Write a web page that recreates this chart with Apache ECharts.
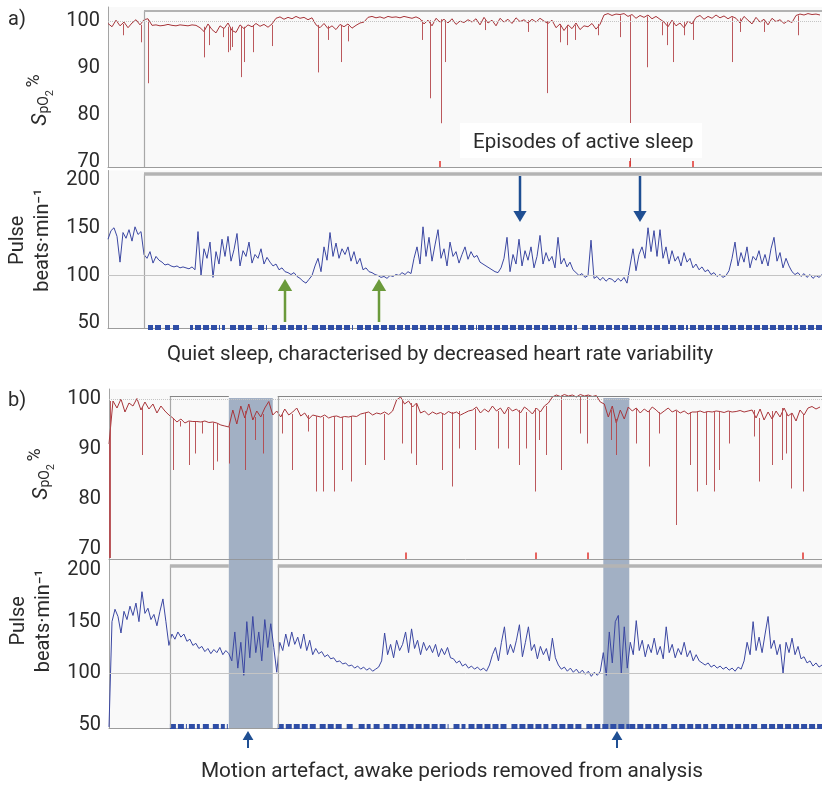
<!DOCTYPE html>
<html>
<head>
<meta charset="utf-8">
<title>Overnight oximetry</title>
<script src="https://cdn.jsdelivr.net/npm/echarts@6/dist/echarts.min.js"></script>
<style>
  html, body { margin: 0; padding: 0; background: #fff; }
  #chart { width: 822px; height: 785px; }
</style>
</head>
<body>
<div id="chart"></div>
<script>
// time axis is minutes from the start of the recording (0..714)
const PULSE_STEP = 3;
const SPO2_STEP = 4;
const T_END = 714;

const spo2Ticks = [70, 80, 90, 100];
const pulseTicks = [50, 100, 150, 200];

// ---- panel a ----
const spo2A = [
  99.5, 98.8, 100.2, 99.0, 99.8, 98.6, 99.6, 100.3, 99.2,
  100.3, 100.5,
  99.1, 99.2, 99.0, 99.1, 99.3, 99.1, 99.0, 99.2, 99.1, 99.0, 99.2, 99.1,
  98.6, 97.8, 99.4, 98.2, 97.5, 99.0, 98.4, 99.6, 98.0, 97.6, 99.2,
  98.4, 99.2, 98.8, 99.5, 98.9, 99.3, 98.7, 99.4,
  100.6, 100.9, 100.4, 100.8, 100.5, 101.0, 100.6, 100.8, 100.3, 100.7,
  99.2, 98.6, 99.5, 98.4, 99.0, 98.2, 99.3, 98.8, 99.4, 98.5, 99.1, 99.6, 99.8,
  100.8, 101.0, 100.7, 100.9, 100.6, 101.0, 100.8, 100.9, 100.7, 101.0, 100.8, 100.6, 100.9, 100.5,
  99.4, 100.2, 99.0, 100.6, 99.8, 100.4, 99.6, 100.5, 99.3, 100.0, 99.7, 100.3,
  99.8, 100.5, 99.2, 100.8, 99.6, 100.2, 99.0, 100.6, 99.8, 100.4, 99.5, 100.7, 99.9, 100.3,
  99.6, 100.4, 99.8, 100.6, 100.0, 99.5, 100.2,
  98.6, 99.4, 98.0, 99.2, 98.4, 99.6, 98.2, 99.0, 98.8, 99.5, 98.3, 99.3,
  101.3, 101.6, 101.2, 101.5, 101.4, 101.6,
  101.0, 101.4, 100.6, 101.2, 100.8, 101.3, 100.5, 101.0, 100.4,
  99.8, 98.8, 100.2, 99.0, 99.6, 98.6, 100.0, 99.4,
  100.8, 101.2, 100.4, 101.0, 100.6, 101.3, 100.7, 101.1, 100.5, 101.0,
  100.6, 99.6, 101.0, 100.2, 99.4, 100.8, 99.8, 100.4, 99.2, 100.6, 99.9, 100.3, 99.5, 100.1, 99.7,
  101.2, 101.5, 101.3, 101.6, 101.4, 101.5, 101.3
];
// desaturations: [minute, level before, lowest value]
const spo2ADips = [
  [15, 99.4, 97.0], [33, 99.2, 95.5], [40, 100.4, 86.8], [96, 98.8, 92.3], [101, 99.0, 94.9],
  [115, 98.6, 96.6], [120, 98.8, 93.4], [122, 98.6, 93.8], [124, 98.8, 94.5], [133, 99.0, 88.1],
  [136, 98.8, 91.3], [145, 99.0, 93.4], [164, 99.2, 94.7], [210, 99.2, 89.1], [220, 99.0, 96.0],
  [233, 99.2, 91.3], [240, 99.0, 95.7], [314, 100.2, 96.0], [322, 100.2, 83.6], [333, 100.4, 78.3],
  [337, 100.0, 91.3], [377, 100.2, 98.1], [420, 100.2, 97.7], [439, 100.0, 84.7], [452, 99.4, 95.5],
  [459, 99.2, 94.9], [467, 99.2, 96.0], [490, 99.4, 97.0], [512, 101.2, 96.6], [522, 101.2, 69.2],
  [539, 101.0, 90.2], [554, 100.0, 97.0], [559, 99.8, 94.9], [565, 99.6, 91.3], [576, 99.8, 97.0],
  [585, 100.0, 96.0], [624, 100.8, 91.3], [632, 100.6, 97.7], [656, 100.2, 97.7], [690, 101.2, 97.0]
];
const pulseA = [
  138, 147, 150, 141, 114, 145, 139, 148, 136, 151, 143, 146,
  122, 118, 125, 113, 120, 116,
  114, 111, 112, 110, 109, 110, 108, 109, 108, 107, 109, 106,
  146, 100, 128, 118, 135, 98, 125, 112, 138, 120, 141, 115, 127, 144, 110, 126, 120, 135, 113, 122, 118, 128, 112, 119,
  114, 110, 112, 106, 108, 104, 103, 101, 103, 99, 97, 94, 92, 96,
  100, 110, 118, 104, 130, 116, 145, 120, 134, 118, 128, 122, 130, 115, 125, 112, 118,
  106, 108, 104, 103, 101, 100, 98, 99, 97, 100, 99, 101, 100, 103, 101, 104, 102,
  118, 130, 112, 151, 120, 140, 115, 132, 148, 118, 128, 110, 135, 120, 125, 113, 122, 130, 117,
  125, 119, 121, 114, 112, 110, 108, 106, 104, 103,
  108, 118, 140, 104, 122, 112, 138, 110, 126, 116, 130, 108, 120, 142, 112, 124, 115, 120, 108, 140, 112, 118, 109, 114, 106,
  103, 100, 102, 98, 100, 137, 97, 99, 95, 98, 94, 97, 96, 93, 97, 94, 98, 92,
  110, 128, 105, 122, 130, 118, 150, 125, 147, 120, 148, 118, 130, 112, 126, 115, 120, 110, 124, 114, 118, 108,
  112, 106, 109, 104, 106, 101, 103, 99, 101, 98, 100,
  105, 118, 135, 110, 124, 114, 130, 108, 120, 116, 126, 112, 122, 110, 128, 140, 115, 124, 108, 118, 110,
  104, 101, 103, 99, 102, 98, 101, 97, 100, 98, 101
];
// quiet sleep epochs [start, end]
const quietA = [
  [40, 45], [47, 54], [57, 62], [65, 72], [82, 85], [87, 112], [114, 117], [122, 145], [150, 159],
  [164, 169], [172, 199], [204, 245], [249, 302], [304, 369], [370, 469], [474, 552], [554, 580],
  [582, 690], [692, 714]
];
const eventsA = [332, 522, 585];
const analysisA = [[36, 714]];

// ---- panel b ----
const spo2B = [
  91.0,
  99.6, 98.2, 100.0, 97.4, 99.2, 98.6, 100.1, 97.8, 99.4, 98.0, 99.0, 97.2, 98.6, 97.6,
  96.8, 96.2, 95.4, 96.0, 95.2, 95.6, 95.5, 95.5, 95.4, 95.6, 95.3, 95.4, 95.2, 94.8, 94.6, 94.4,
  97.8, 95.0, 98.6, 96.2, 99.0, 95.8, 97.6, 96.4, 98.2, 99.5, 96.8,
  97.6, 96.4, 98.0, 96.8, 97.4, 98.2, 96.6, 97.2, 96.0, 96.8,
  96.6, 96.4, 96.8, 96.2, 96.5, 96.6, 96.3, 96.5, 96.4, 96.6, 96.5,
  97.0, 97.2, 97.4, 96.8, 97.2, 97.0, 97.4, 96.9, 97.6,
  99.8, 100.4, 99.0, 99.6, 98.4, 99.2,
  97.2, 97.6, 96.8, 97.4, 97.0, 97.3, 96.9, 97.5, 97.1, 97.4, 96.8, 97.2, 97.6,
  97.8, 98.4, 97.2, 98.0, 97.4, 98.6, 97.6, 98.2, 97.0, 98.4, 97.6, 98.0, 97.2, 98.4, 97.8, 97.0, 98.2, 97.4, 98.6,
  99.2, 100.4, 100.8, 100.5, 100.9, 100.6, 100.8, 100.4, 100.9, 100.6, 100.8, 100.5, 100.7,
  99.4, 99.0,
  96.4, 98.6, 95.2, 97.8, 96.0, 98.4,
  97.6, 98.2, 97.2, 98.0, 97.4, 98.4, 97.8, 97.0, 97.6, 98.2, 97.4, 97.8, 97.2, 97.6, 97.0, 97.4,
  97.4, 97.6, 97.3, 97.5, 97.4, 97.6, 97.5, 97.3, 97.6, 97.4, 97.5, 97.7, 97.4, 97.6,
  97.8, 96.2, 98.0, 95.8, 97.4, 96.0, 97.6, 96.4, 98.2, 96.6, 97.2, 95.6, 97.8, 96.8,
  98.2, 98.5, 98.0, 98.4
];
const spo2BDips = [
  [0, 91, 68.2], [1.5, 99.6, 68.2], [33, 98.4, 88.8], [64, 96.2, 85.8], [71, 95.6, 94.5],
  [80, 95.5, 86.8], [86, 95.5, 89.1], [93, 95.4, 93.1], [104, 95.3, 85.8], [108, 95.2, 87.5],
  [120, 94.4, 87.1], [136, 97.6, 85.8], [146, 96.4, 91.8], [154, 97.0, 89.1], [173, 97.2, 93.1],
  [184, 97.0, 85.8], [200, 96.8, 93.5], [208, 96.6, 81.5], [215, 96.4, 81.5], [226, 96.5, 81.5],
  [234, 96.4, 85.8], [243, 96.6, 83.5], [257, 97.2, 86.8], [276, 97.0, 87.8], [294, 99.6, 91.1],
  [303, 99.2, 89.1], [308, 99.0, 86.8], [334, 97.2, 85.8], [344, 97.4, 82.5], [351, 97.6, 90.1],
  [367, 98.0, 89.8], [390, 97.6, 90.1], [400, 98.0, 90.1], [411, 97.8, 86.8], [418, 97.4, 90.1],
  [427, 98.2, 81.5], [431, 97.6, 91.8], [438, 98.6, 88.8], [453, 100.6, 85.8], [472, 100.6, 93.1],
  [479, 100.8, 91.1], [503, 97.8, 91.8], [508, 96.0, 88.8], [528, 98.2, 91.1], [541, 97.6, 86.5],
  [551, 97.4, 93.1], [568, 97.6, 74.8], [582, 97.4, 86.8], [589, 97.4, 81.5], [598, 97.5, 82.8],
  [606, 97.6, 81.5], [611, 97.4, 85.8], [621, 97.5, 91.1], [646, 97.8, 92.5], [651, 96.2, 83.5],
  [664, 97.6, 86.8], [674, 98.2, 87.8], [678, 97.2, 89.1], [683, 97.2, 82.1], [695, 96.8, 81.5]
];
const pulseB = [
  48,
  150, 162, 155, 139, 160, 152, 165, 156, 168, 150, 179, 158, 163, 152, 157, 146, 160, 172, 150,
  127,
  138, 133, 140, 135, 138, 131, 133, 127, 129, 124, 126, 121, 124, 119, 123, 120, 125, 118, 122, 119,
  112, 140, 105, 130, 98, 150, 115, 155, 120, 140, 112, 152, 125, 148,
  125, 101, 130, 122, 138, 126, 140, 128, 135, 124, 138, 122, 132, 118,
  124, 119, 121, 116, 118, 114, 115, 111, 112, 109, 110, 107, 108, 105, 107, 104, 106, 103, 105, 102, 104, 106,
  112, 139, 118, 128, 115, 132, 122, 128, 140, 120, 143, 124, 132, 118, 130, 122, 127, 120, 128, 116, 124, 118, 125, 115,
  114, 110, 112, 107, 109, 105,
  107, 104, 106, 103, 105, 102, 108,
  118, 125, 112, 130, 145, 118, 128, 120, 132, 147, 116, 130, 145, 122, 128, 114, 126, 118, 124, 112, 134, 115,
  108, 104, 106, 102, 105, 101, 104, 100, 103, 99, 102, 97, 101, 98, 102,
  120, 98, 140, 110, 150, 156, 100, 145, 105,
  130, 118, 151, 122, 132, 116, 128, 120, 134, 118, 126, 114, 145, 120, 128, 115, 124, 118, 130, 116, 122, 112, 118,
  112, 110, 108, 110, 106, 108, 105, 107, 104, 106, 103, 105, 102, 106, 104,
  112, 130, 118, 150, 122, 135, 120, 138, 155, 124, 132, 118, 128, 100, 130, 120, 134, 118, 126, 114,
  116, 110, 112, 107, 110, 106, 108
];
const quietB = [
  [61, 78], [80, 91], [94, 101], [104, 116], [118, 119], [169, 209], [211, 235], [238, 245],
  [250, 262], [265, 272], [275, 340], [345, 357], [360, 400], [403, 440], [443, 475], [478, 521],
  [521, 560], [563, 600], [603, 650], [653, 714]
];
const eventsB = [297, 427, 479, 695];
const analysisB = [[61, 120], [169, 714]];
const awakeB = [[120, 164], [495, 521]];

// ---------- layout ----------
const FONT = 'Roboto, "Noto Sans", sans-serif';
const TXT = '#2b2b2b';
const RED = '#a8353a';
const BLUE = '#3b47a2';
const ARROW = '#1f4f93';

const panels = [
  { left: 108, top: 7, height: 160, width: 714, min: 69, max: 103, ticks: spo2Ticks, barTop: 102.2, ref: 100 },
  { left: 108, top: 170.5, height: 157.5, width: 714, min: 45, max: 210, ticks: pulseTicks, barTop: 206.3, ref: 100 },
  { left: 109, top: 389, height: 170, width: 713, min: 68, max: 102, ticks: spo2Ticks, barTop: 100.6, ref: 100 },
  { left: 109, top: 559.7, height: 168.3, width: 713, min: 47, max: 210, ticks: pulseTicks, barTop: 204.4, ref: 100 }
];
const barStyle = [
  { color: '#b2b2b2', width: 2.2 },
  { color: '#b4b4b4', width: 3.5 },
  { color: '#858585', width: 1.2 },
  { color: '#b4b4b4', width: 3.5 }
];

const spo2Name = '{it|S}{sub|pO}{sub2|2}{sp| }{sup|%}';
const spo2Rich = {
  it: { fontStyle: 'italic', fontSize: 21, lineHeight: 30, fontFamily: FONT, color: TXT, verticalAlign: 'middle' },
  sub: { fontSize: 14, fontFamily: FONT, color: TXT, verticalAlign: 'bottom', padding: [0, 0, 4, 0] },
  sub2: { fontSize: 11, fontFamily: FONT, color: TXT, verticalAlign: 'bottom' },
  sp: { fontSize: 10, fontFamily: FONT, color: TXT },
  sup: { fontSize: 18, fontFamily: FONT, color: TXT, verticalAlign: 'top' }
};
const names = [
  { name: spo2Name, gap: 35, padding: [0, 26, 0, 0], rich: spo2Rich },
  { name: 'Pulse\nbeats\u00b7min\u207b\u00b9', gap: 49, padding: [0, 0, 0, 18], lineHeight: 25 },
  { name: spo2Name, gap: 35, padding: [0, 0, 0, 0], rich: spo2Rich },
  { name: 'Pulse\nbeats\u00b7min\u207b\u00b9', gap: 49, padding: [0, 0, 0, 46], lineHeight: 25 }
];

const grids = panels.map(p => ({
  left: p.left, top: p.top, width: p.width, height: p.height,
  show: true, backgroundColor: '#f9f9f9', borderWidth: 0,
  containLabel: false, outerBoundsMode: 'none'
}));

const xAxes = panels.map((p, i) => ({
  type: 'value', gridIndex: i, min: 0, max: T_END,
  axisLine: { show: true, lineStyle: { color: '#9c9c9c' } },
  axisTick: { show: false }, axisLabel: { show: false }, splitLine: { show: false }
}));

const yAxes = panels.map((p, i) => ({
  type: 'value', gridIndex: i, min: p.min, max: p.max, interval: 1,
  axisLine: { show: true, lineStyle: { color: '#a4a4a4' } },
  axisTick: { show: false }, splitLine: { show: false },
  axisLabel: {
    color: TXT, fontSize: 20, fontFamily: FONT, margin: 8,
    formatter: v => (p.ticks.includes(v) ? String(v) : '')
  },
  name: names[i].name, nameLocation: 'middle', nameRotate: 90, nameGap: names[i].gap,
  nameTextStyle: {
    color: TXT, fontSize: 20, fontFamily: FONT, padding: names[i].padding,
    lineHeight: names[i].lineHeight, rich: names[i].rich
  }
}));

const toPoints = (vals, step) => vals.map((v, i) => [i * step, v]);
const dipLines = dips => dips.map(d => ({ coords: [[d[0], d[1]], [d[0], d[2]]] }));
const segLines = (segs, y) => segs.map(s => ({ coords: [[s[0], y], [s[1], y]] }));
const tickLines = (ts, y0, y1) => ts.map(t => ({ coords: [[t, y0], [t, y1]] }));

function trace(i, data, color) {
  return {
    type: 'line', xAxisIndex: i, yAxisIndex: i, data, symbol: 'none', showSymbol: false,
    lineStyle: { color, width: 1 }, silent: true, z: 2,
    markLine: {
      silent: true, symbol: 'none', label: { show: false },
      lineStyle: { color: '#c4c4c4', type: i % 2 ? 'solid' : 'dotted', width: 1 },
      data: [{ yAxis: panels[i].ref }]
    }
  };
}
function lines(i, data, style, z) {
  return {
    type: 'lines', coordinateSystem: 'cartesian2d', xAxisIndex: i, yAxisIndex: i,
    data, silent: true, z: z || 3, lineStyle: style
  };
}
function brackets(i, periods) {
  const p = panels[i];
  const verts = periods.map(r => ({ coords: [[r[0], p.min], [r[0], p.barTop]] }));
  const tops = periods.map(r => ({ coords: [[r[0], p.barTop], [r[1], p.barTop]] }));
  return [
    lines(i, verts, { color: '#a8a8a8', width: 1.2, opacity: 1 }, 4),
    lines(i, tops, { color: barStyle[i].color, width: barStyle[i].width, opacity: 1 }, 4)
  ];
}
function bands(i, yTop) {
  return {
    type: 'line', xAxisIndex: i, yAxisIndex: i, data: [], silent: true, z: 6,
    markArea: {
      silent: true,
      itemStyle: { color: 'rgba(108,130,163,0.62)' },
      data: awakeB.map(b => [
        { coord: [b[0], panels[i].min] },
        { coord: [b[1], yTop == null ? panels[i].max : yTop] }
      ])
    }
  };
}

const series = [
  trace(0, toPoints(spo2A, SPO2_STEP), RED),
  lines(0, dipLines(spo2ADips), { color: '#b4464a', width: 1, opacity: 0.9 }),
  lines(0, tickLines(eventsA, 69, 70.3), { color: '#e0322c', width: 1.5, opacity: 1 }),
  ...brackets(0, analysisA),
  trace(1, toPoints(pulseA, PULSE_STEP), BLUE),
  lines(1, segLines(quietA, 45.3), { color: '#2f4ea6', width: 5, opacity: 1, type: [6, 2] }),
  ...brackets(1, analysisA),

  trace(2, toPoints(spo2B, SPO2_STEP), RED),
  lines(2, dipLines(spo2BDips), { color: '#b4464a', width: 1, opacity: 0.9 }),
  lines(2, tickLines(eventsB, 68, 69.3), { color: '#e0322c', width: 1.5, opacity: 1 }),
  ...brackets(2, analysisB),
  bands(2, 100.2),
  trace(3, toPoints(pulseB, PULSE_STEP), BLUE),
  lines(3, segLines(quietB, 49), { color: '#2f4ea6', width: 5, opacity: 1, type: [6, 2] }),
  ...brackets(3, analysisB),
  bands(3, null)
];

// annotation arrows and captions
function arrow(x, yTail, yTip, color, head, w) {
  const dir = yTip > yTail ? 1 : -1;
  return [
    { type: 'line', z: 100, shape: { x1: x, y1: yTail, x2: x, y2: yTip - dir * head },
      style: { stroke: color, lineWidth: w } },
    { type: 'polygon', z: 100, shape: { points: [[x - head * 0.6, yTip - dir * head], [x + head * 0.6, yTip - dir * head], [x, yTip]] },
      style: { fill: color } }
  ];
}
const caption = (text, x, y, size, align) => ({
  type: 'text', z: 100, x, y,
  style: { text, fill: TXT, font: size + 'px ' + FONT, align: align || 'center', verticalAlign: 'middle' }
});

const graphic = [
  { type: 'text', z: 100, x: 8, y: 20, style: { text: 'a)', fill: TXT, font: '20px ' + FONT, verticalAlign: 'middle' } },
  { type: 'text', z: 100, x: 8, y: 401, style: { text: 'b)', fill: TXT, font: '20px ' + FONT, verticalAlign: 'middle' } },
  { type: 'rect', z: 99, shape: { x: 460, y: 123, width: 242, height: 35 }, style: { fill: '#ffffff' } },
  caption('Episodes of active sleep', 473, 143, 20.5, 'left'),
  caption('Quiet sleep, characterised by decreased heart rate variability', 440, 355, 20.5),
  caption('Motion artefact, awake periods removed from analysis', 452, 772, 20.8),
  ...arrow(520, 176, 222, ARROW, 11, 2.5),
  ...arrow(640, 176, 222, ARROW, 11, 2.5),
  ...arrow(285, 322, 279, '#6b9a3b', 12, 2.5),
  ...arrow(379, 322, 279, '#6b9a3b', 12, 2.5),
  ...arrow(248, 748, 731, ARROW, 9, 2),
  ...arrow(617, 748, 731, ARROW, 9, 2)
];

const chart = echarts.init(document.getElementById('chart'));
chart.setOption({
  animation: false,
  backgroundColor: '#ffffff',
  grid: grids,
  xAxis: xAxes,
  yAxis: yAxes,
  series,
  graphic
});
</script>
</body>
</html>
